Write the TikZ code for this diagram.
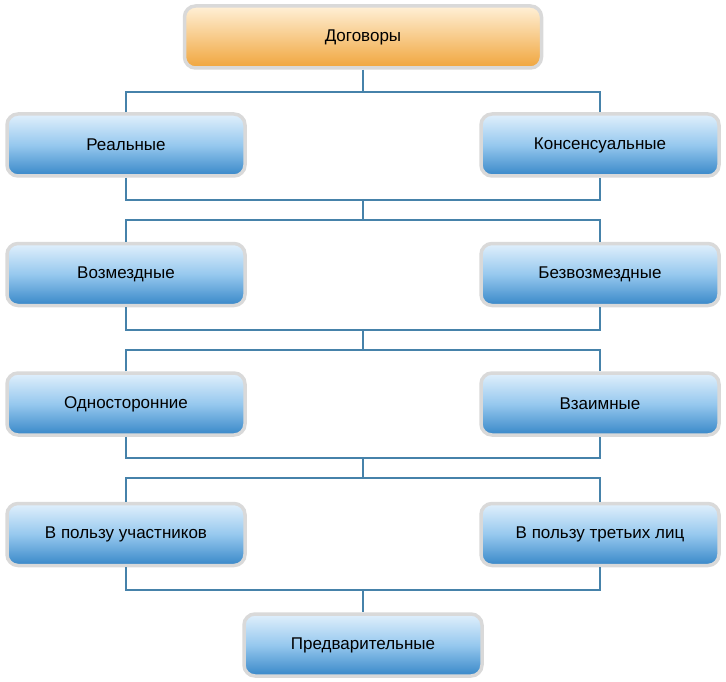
\documentclass[tikz,border=0pt]{standalone}
\usepackage{fontspec}
\setmainfont{Liberation Sans}
\definecolor{btop}{RGB}{225,240,252}
\definecolor{bmid}{RGB}{150,200,238}
\definecolor{bbot}{RGB}{55,135,200}
\definecolor{otop}{RGB}{255,240,215}
\definecolor{omid}{RGB}{252,215,150}
\definecolor{obot}{RGB}{240,165,60}
\begin{document}
\begin{tikzpicture}[x=1pt,y=-1pt,
  box/.style={draw=gray!30,line width=3.5pt,rounded corners=11pt,minimum width=238pt,minimum height=62pt,
    top color=btop,bottom color=bbot,middle color=bmid,
    font=\fontsize{17}{20}\selectfont},
  topbox/.style={box,minimum width=357pt,top color=otop,middle color=omid,bottom color=obot},
  ln/.style={draw={rgb,255:red,70;green,130;blue,170},line width=2pt}]
\useasboundingbox (0,0) rectangle (726,682);
\node[topbox] (t) at (363,37) {Договоры};
\node[box] (a1) at (126,145) {Реальные};
\node[box] (b1) at (600,145) {Консенсуальные};
\node[box] (a2) at (126,274.5) {Возмездные};
\node[box] (b2) at (600,274.5) {Безвозмездные};
\node[box] (a3) at (126,404) {Односторонние};
\node[box] (b3) at (600,404) {Взаимные};
\node[box] (a4) at (126,534.5) {В пользу участников};
\node[box] (b4) at (600,534.5) {В пользу третьих лиц};
\node[box] (p) at (363,645) {Предварительные};
\coordinate (m0) at (363,92);
\draw[ln] (t.south) -- (m0);
\draw[ln] (a1.north) |- (m0) -| (b1.north);
\foreach \r/\n/\ya/\yb in {1/2/200/220,2/3/330/350,3/4/458/478}{
  \coordinate (u\r) at (363,\ya);
  \coordinate (d\r) at (363,\yb);
  \draw[ln] (a\r.south) |- (u\r) -| (b\r.south);
  \draw[ln] (u\r) -- (d\r);
  \draw[ln] (a\n.north) |- (d\r) -| (b\n.north);
}
\coordinate (u4) at (363,590);
\draw[ln] (a4.south) |- (u4) -| (b4.south);
\draw[ln] (u4) -- (p.north);
\end{tikzpicture}
\end{document}
